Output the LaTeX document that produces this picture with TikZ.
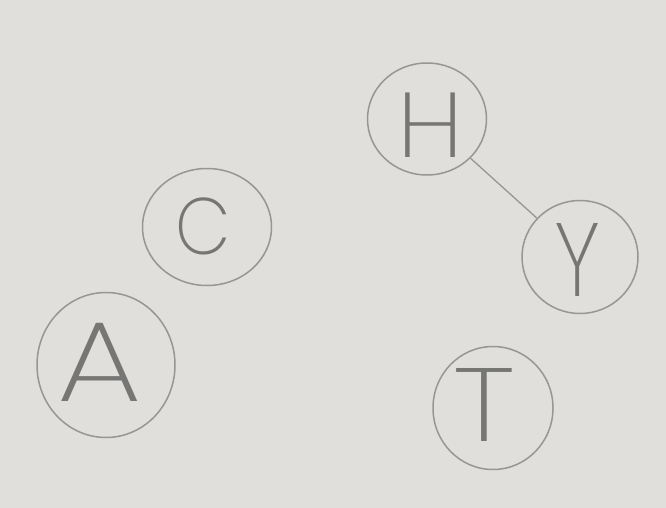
\documentclass[tikz,border=0pt]{standalone}
\usepackage{fontspec}
\usetikzlibrary{shapes.geometric}
\newfontfamily\thinletters{Poppins ExtraLight}
\definecolor{paper}{RGB}{224,223,220}
\definecolor{pencil}{RGB}{150,150,148}
\definecolor{lead}{RGB}{118,118,116}
\tikzset{
  ring/.style={ellipse, draw=pencil, line width=1.5pt, inner sep=0pt},
  letter/.style={text=lead, inner sep=0pt, font=\thinletters},
  link/.style={draw=pencil, line width=1.3pt}
}
\begin{document}
\begin{tikzpicture}[x=1pt,y=-1pt]
\fill[paper] (0,0) rectangle (666,508);
\useasboundingbox (0,0) rectangle (666,508);
% rings
\node[ring, minimum width=119pt, minimum height=112pt] (H) at (427,119) {};
\node[ring, minimum width=129pt, minimum height=117pt] (C) at (207,227) {};
\node[ring, minimum width=116pt, minimum height=113pt] (Y) at (580,257) {};
\node[ring, minimum width=138pt, minimum height=145pt] (A) at (106,365) {};
\node[ring, minimum width=120pt, minimum height=123pt] (T) at (493,408) {};
% letters
\node[letter, font=\thinletters\fontsize{92}{92}\selectfont, xscale=1.08] (Hl) at (431,125) {H};
\node[letter, font=\thinletters\fontsize{80}{80}\selectfont, xscale=0.9] (Cl) at (203,226) {C};
\node[letter, font=\thinletters\fontsize{114}{114}\selectfont, xscale=1.18] (Al) at (100,362) {A};
\node[letter, font=\thinletters\fontsize{104}{104}\selectfont, xscale=0.82] (Yl) at (578,260) {Y};
\node[letter, font=\thinletters\fontsize{104}{104}\selectfont, xscale=1.2] (Tl) at (484,405) {T};
% connector
\draw[link] (H) -- (Y);
\end{tikzpicture}
\end{document}
